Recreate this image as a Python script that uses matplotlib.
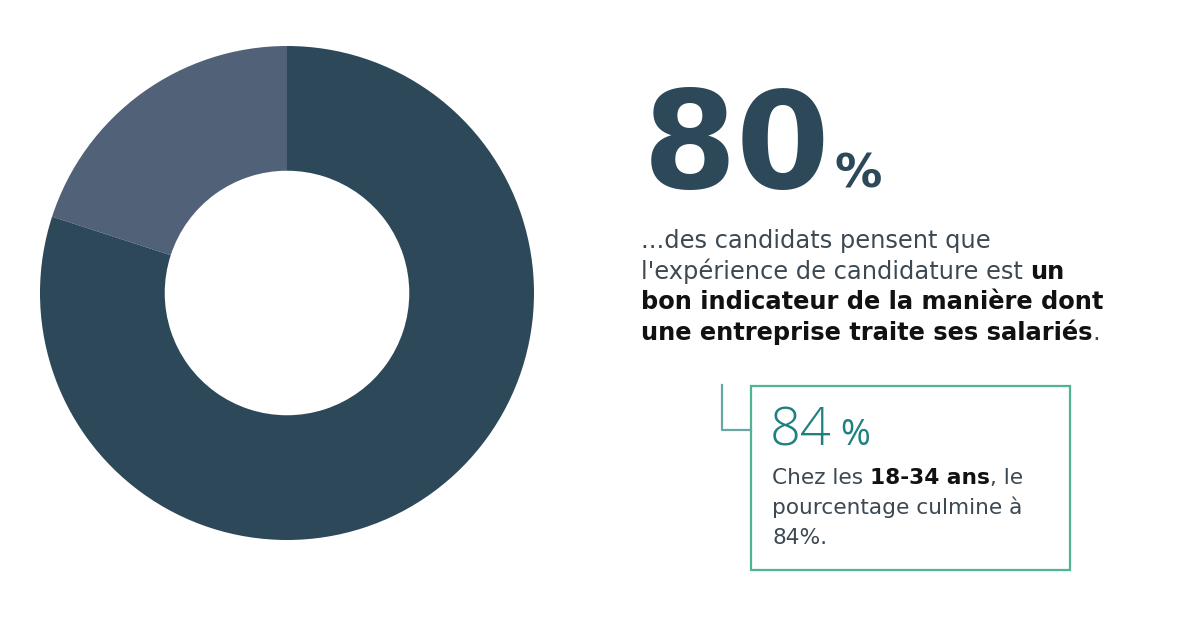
import matplotlib
matplotlib.use('Agg')
import matplotlib.pyplot as plt
from matplotlib.patches import Rectangle
from matplotlib.lines import Line2D

# data
labels = ['Oui', 'Non']
shares = [80, 20]
headline = '80'
sub_value = '84'

W, H = 1200, 623
FONT = 'DejaVu Sans'
DARK = '#2c4859'
LIGHT = '#506178'
TEAL = '#1f8082'
GREEN = '#4fb58f'
GREY = '#3c4852'

fig = plt.figure(figsize=(12, 6.23), dpi=100)
fig.patch.set_facecolor('white')


def fx(x):
    return x / W


def fy(y):
    return 1 - y / H


# donut
cx, cy, r = 287, 293, 247
ax = fig.add_axes([fx(cx - r), fy(cy + r), 2 * r / W, 2 * r / H])
ax.pie(shares[::-1], colors=[LIGHT, DARK], startangle=90, counterclock=True,
       radius=1, wedgeprops=dict(width=0.505, linewidth=0))
ax.set_xlim(-1, 1)
ax.set_ylim(-1, 1)
ax.set_aspect('equal')
ax.axis('off')

renderer = fig.canvas.get_renderer()


def line(x, y, parts, size, color=GREY, family=FONT):
    # parts: list of (text, bold, color)
    for txt, bold, col in parts:
        t = fig.text(fx(x), fy(y), txt, fontsize=size, family=family,
                     fontweight='bold' if bold else 'normal',
                     color=col or color, va='baseline', ha='left')
        bb = t.get_window_extent(renderer)
        x += bb.width
    return x


# big number
end = line(643, 188, [(headline, True, DARK)], 97)
line(end + 4, 188, [('%', True, DARK)], 34)

# description
blk = '#111111'
fs = 17.4
line(641, 248, [('...des candidats pensent que', False, None)], fs)
line(641, 279, [("l'expérience de candidature est ", False, None), ('un', True, blk)], fs)
line(641, 309, [('bon indicateur de la manière dont', True, blk)], fs)
line(641, 340, [('une entreprise traite ses salariés', True, blk), ('.', False, None)], fs)

# box
fig.patches.append(Rectangle((fx(751), fy(570)), fx(1070) - fx(751), fy(386) - fy(570),
                             transform=fig.transFigure, fill=False,
                             edgecolor=GREEN, linewidth=1.6))
fig.lines.append(Line2D([fx(722), fx(722), fx(751)], [fy(385), fy(430), fy(430)],
                        transform=fig.transFigure, color='#6aa6a6', linewidth=1.6))

t = fig.text(fx(770), fy(445), sub_value, fontsize=39, family='Open Sans',
             fontweight='light', color=TEAL, va='baseline')
line(770 + t.get_window_extent(renderer).width + 8, 445, [('%', False, TEAL)], 26,
     family='Open Sans')

fs2 = 15.6
line(772, 484, [('Chez les ', False, None), ('18-34 ans', True, blk), (', le', False, None)], fs2)
line(772, 514, [('pourcentage culmine à', False, None)], fs2)
line(772, 544, [('84%.', False, None)], fs2)

fig.savefig('out.png', dpi=100, facecolor='white')
